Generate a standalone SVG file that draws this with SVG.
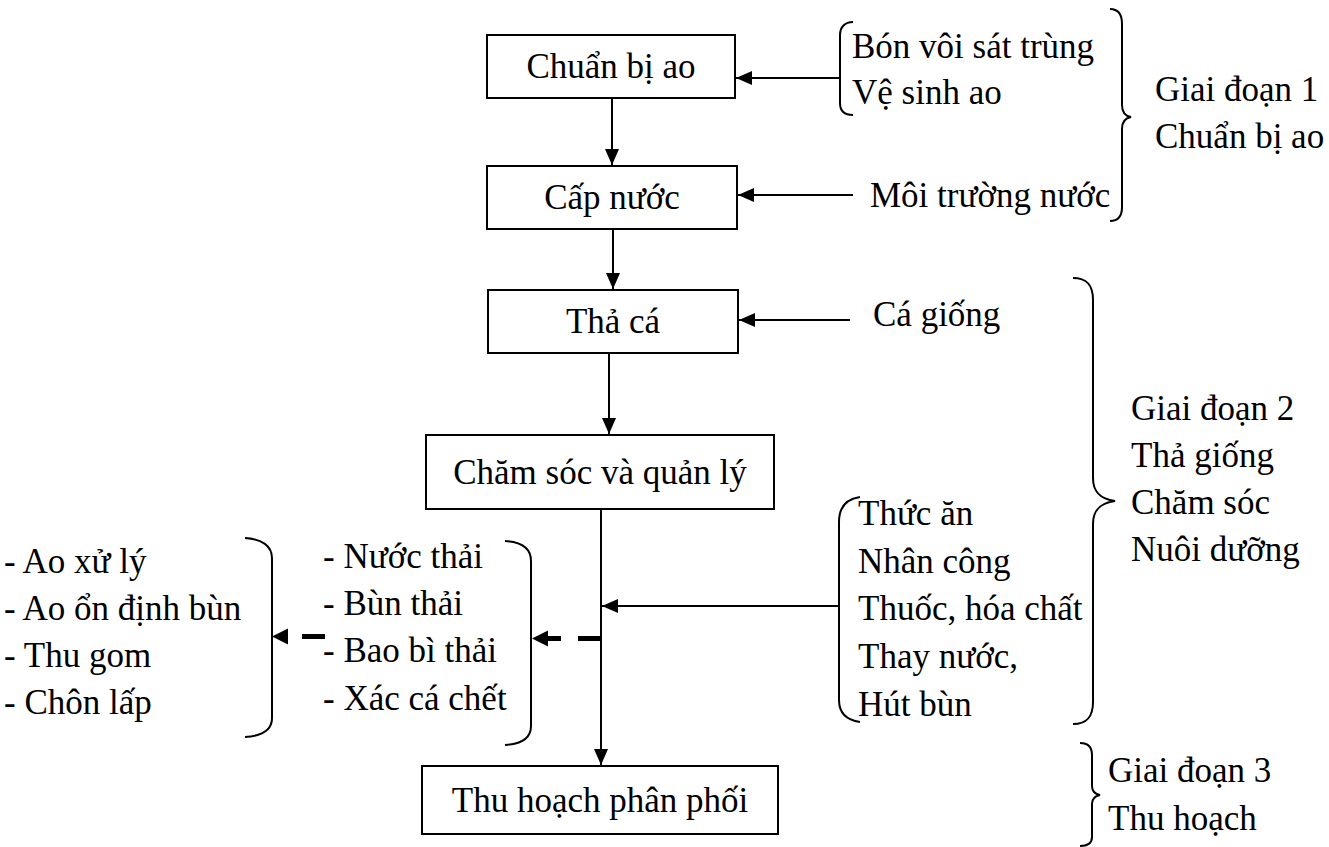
<svg xmlns="http://www.w3.org/2000/svg" width="1329" height="847" viewBox="0 0 1329 847">
<defs>
<marker id="ah" markerWidth="16" markerHeight="14" refX="16" refY="7" orient="auto" markerUnits="userSpaceOnUse">
<path d="M0,0 L16,7 L0,14 Z" fill="#000"/>
</marker>
<style>
text{font-family:"Liberation Serif","Times New Roman",serif;font-size:35px;fill:#000}
.box{fill:#fff;stroke:#000;stroke-width:2}
.ln{fill:none;stroke:#000;stroke-width:2}
.br{fill:none;stroke:#000;stroke-width:2}
.c{text-anchor:middle}
</style>
</defs>
<rect width="1329" height="847" fill="#fff"/>

<g id="connectors">
<line class="ln" x1="612" y1="98" x2="612" y2="165" marker-end="url(#ah)"/>
<line class="ln" x1="613" y1="229" x2="613" y2="289" marker-end="url(#ah)"/>
<line class="ln" x1="609" y1="353" x2="609" y2="434" marker-end="url(#ah)"/>
<line class="ln" x1="601" y1="509" x2="601" y2="765" marker-end="url(#ah)"/>
<line class="ln" x1="840" y1="78" x2="736" y2="78" marker-end="url(#ah)"/>
<line class="ln" x1="853" y1="195" x2="738" y2="195" marker-end="url(#ah)"/>
<line class="ln" x1="850" y1="320" x2="739" y2="320" marker-end="url(#ah)"/>
<line class="ln" x1="839" y1="606" x2="602" y2="606" marker-end="url(#ah)"/>
<rect x="578" y="636" width="23" height="5" fill="#000"/>
<rect x="546" y="636" width="15" height="5" fill="#000"/>
<path d="M532,638.5 L548,630.5 L548,646.5 Z" fill="#000"/>
<rect x="302" y="634" width="23" height="5" fill="#000"/>
<path d="M272,636.5 L288,628.5 L288,644.5 Z" fill="#000"/>
</g>

<g id="n1"><rect class="box" x="487" y="35" width="248" height="63"/><text class="c" x="611" y="78">Chuẩn bị ao</text></g>
<g id="n2"><rect class="box" x="487" y="166" width="250" height="63"/><text class="c" x="612" y="209">Cấp nước</text></g>
<g id="n3"><rect class="box" x="488" y="290" width="250" height="63"/><text class="c" x="613" y="333">Thả cá</text></g>
<g id="n4"><rect class="box" x="426" y="435" width="348" height="74"/><text class="c" x="600" y="484">Chăm sóc và quản lý</text></g>
<g id="n5"><rect class="box" x="422" y="766" width="356" height="68"/><text class="c" x="600" y="812">Thu hoạch phân phối</text></g>

<g id="inputs1">
<path class="br" d="M853,22 C845,22 840,27 840,35 L840,103 C840,111 845,115 853,115"/>
<text x="852" y="58">Bón vôi sát trùng</text>
<text x="852" y="104">Vệ sinh ao</text>
</g>
<g id="inputs2"><text x="870" y="207">Môi trường nước</text></g>
<g id="inputs3"><text x="873" y="326">Cá giống</text></g>
<g id="inputs4">
<path class="br" d="M860,497 C846,499 839,508 839,522 L839,700 C839,713 846,720 860,722"/>
<text x="858" y="525">Thức ăn</text>
<text x="858" y="573">Nhân công</text>
<text x="858" y="620">Thuốc, hóa chất</text>
<text x="858" y="668">Thay nước,</text>
<text x="858" y="716">Hút bùn</text>
</g>

<g id="waste">
<path class="br" d="M505,541 C522,542 531,549 531,561 L531,726 C531,738 522,744 505,745"/>
<text x="323" y="568">- Nước thải</text>
<text x="323" y="615">- Bùn thải</text>
<text x="323" y="662">- Bao bì thải</text>
<text x="323" y="710">- Xác cá chết</text>
</g>
<g id="treatment">
<path class="br" d="M245,538 C262,539 272,546 272,558 L272,718 C272,730 262,736 245,737"/>
<text x="4" y="573">- Ao xử lý</text>
<text x="4" y="620">- Ao ổn định bùn</text>
<text x="4" y="667">- Thu gom</text>
<text x="4" y="714">- Chôn lấp</text>
</g>

<g id="stage1">
<path class="br" d="M1110,9 C1118,9 1122,14 1122,24 L1122,105 C1122,112 1125,116 1131,117 C1125,118 1122,122 1122,129 L1122,207 C1122,216 1118,221 1110,221"/>
<text x="1155" y="101">Giai đoạn 1</text>
<text x="1155" y="148">Chuẩn bị ao</text>
</g>
<g id="stage2">
<path class="br" d="M1073,278 C1087,278 1093,285 1093,300 L1093,478 C1093,492 1100,499 1115,501 C1100,503 1093,510 1093,524 L1093,702 C1093,717 1087,724 1073,724"/>
<text x="1131" y="420">Giai đoạn 2</text>
<text x="1131" y="467">Thả giống</text>
<text x="1131" y="514">Chăm sóc</text>
<text x="1131" y="561">Nuôi dưỡng</text>
</g>
<g id="stage3">
<path class="br" d="M1080,743 C1088,743 1092,747 1092,755 L1092,786 C1092,791 1095,794 1100,795 C1095,796 1092,799 1092,804 L1092,837 C1092,843 1088,846 1080,846"/>
<text x="1108" y="782">Giai đoạn 3</text>
<text x="1108" y="830">Thu hoạch</text>
</g>
</svg>
